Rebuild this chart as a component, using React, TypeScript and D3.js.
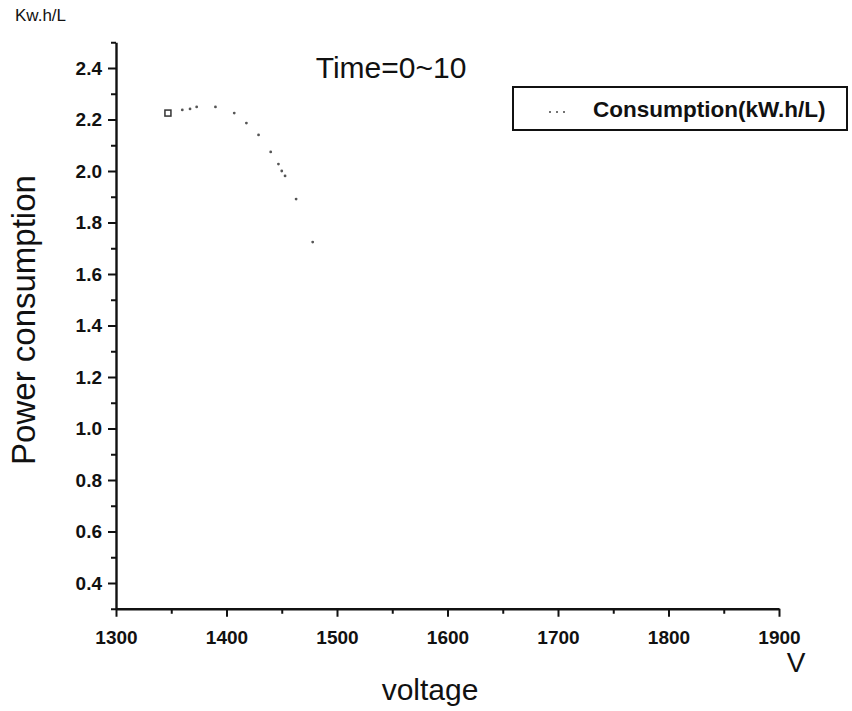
import { useEffect, useRef } from "react";
import * as d3 from "d3";

// voltage (V) vs power consumption (kW.h/L)
const voltage = [1347, 1360, 1367, 1373, 1390, 1407, 1418, 1429, 1440, 1447, 1450, 1453, 1463, 1478];
const consumption = [2.225, 2.237, 2.241, 2.249, 2.249, 2.225, 2.186, 2.14, 2.074, 2.027, 2.0, 1.981, 1.891, 1.724];

const xTicks = [1300, 1400, 1500, 1600, 1700, 1800, 1900];
const xMinor = [1350, 1450, 1550, 1650, 1750, 1850];
const yTicks = [0.4, 0.6, 0.8, 1.0, 1.2, 1.4, 1.6, 1.8, 2.0, 2.2, 2.4];
const yMinor = [0.3, 0.5, 0.7, 0.9, 1.1, 1.3, 1.5, 1.7, 1.9, 2.1, 2.3, 2.5];

const W = 852;
const H = 711;
const FONT = "'Liberation Sans', Arial, sans-serif";

export default function App() {
  const axRef = useRef<SVGGElement>(null);

  const x = d3.scaleLinear().domain([1300, 1900]).range([116, 779]);
  const y = d3.scaleLinear().domain([0.3, 2.5]).range([608.75, 42.25]);

  useEffect(() => {
    if (!axRef.current) return;
    const g = d3.select(axRef.current);
    g.selectAll("*").remove();

    // minor ticks
    g.append("g")
      .attr("transform", `translate(0,${y(0.3)})`)
      .call(d3.axisBottom(x).tickValues(xMinor).tickSize(5).tickFormat(() => ""))
      .call((s) => s.select(".domain").remove());
    g.append("g")
      .attr("transform", `translate(${x(1300)},0)`)
      .call(d3.axisLeft(y).tickValues(yMinor).tickSize(5).tickFormat(() => ""))
      .call((s) => s.select(".domain").remove());

    // major axes
    const xa = g.append("g")
      .attr("transform", `translate(0,${y(0.3)})`)
      .call(d3.axisBottom(x).tickValues(xTicks).tickSize(8).tickSizeOuter(0).tickFormat(d3.format("d")));
    const ya = g.append("g")
      .attr("transform", `translate(${x(1300)},0)`)
      .call(d3.axisLeft(y).tickValues(yTicks).tickSize(8).tickSizeOuter(0).tickFormat(d3.format(".1f")));

    g.selectAll(".domain").attr("stroke", "#111").attr("stroke-width", 2.4);
    g.selectAll(".tick line").attr("stroke", "#111").attr("stroke-width", 2);
    g.selectAll("text")
      .attr("font-family", FONT)
      .attr("font-size", 19)
      .attr("font-weight", "bold")
      .attr("fill", "#111");
    xa.selectAll("text").attr("y", 22);
    ya.selectAll("text").attr("x", -14);
  }, []);

  return (
    <div style={{ position: "absolute", left: 0, top: 0 }}>
      <svg width={W} height={H} style={{ display: "block", background: "#fff" }}>
        <g ref={axRef} />

        {/* data */}
        <rect x={x(voltage[0]) - 3} y={y(consumption[0]) - 3} width={6} height={6}
          fill="none" stroke="#333" strokeWidth={1.5} />
        {voltage.slice(1).map((v, i) => (
          <circle key={i} cx={x(v)} cy={y(consumption[i + 1])} r={1.4} fill="#555" />
        ))}

        {/* titles */}
        <text x={391} y={78} textAnchor="middle" fontFamily={FONT} fontSize={30} fill="#111">Time=0~10</text>
        <text x={15} y={21} fontFamily={FONT} fontSize={17} fill="#111">Kw.h/L</text>
        <text transform="translate(35,320) rotate(-90)" textAnchor="middle" fontFamily={FONT} fontSize={33} fill="#111">
          Power consumption
        </text>
        <text x={430} y={700} textAnchor="middle" fontFamily={FONT} fontSize={30} fill="#111">voltage</text>
        <text x={796} y={672} textAnchor="middle" fontFamily={FONT} fontSize={28} fill="#111">V</text>

        {/* legend */}
        <rect x={513} y={87} width={334} height={43} fill="none" stroke="#111" strokeWidth={2} />
        {[550, 557, 564].map((lx, i) => (
          <circle key={i} cx={lx} cy={112} r={1} fill="#444" />
        ))}
        <text x={593} y={117} fontFamily={FONT} fontSize={22.5} fontWeight="bold" fill="#111">
          Consumption(kW.h/L)
        </text>
      </svg>
    </div>
  );
}
